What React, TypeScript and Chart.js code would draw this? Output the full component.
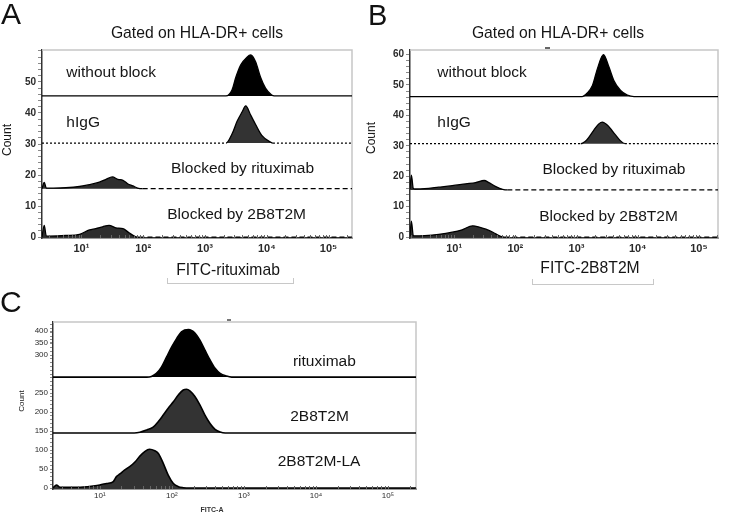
import { useEffect, useRef } from "react";
import { Chart, registerables } from "chart.js";

Chart.register(...registerables);

const FONT = '"Liberation Sans", Arial, Helvetica, sans-serif';

// ---------- shared x axis (log) ----------
const decadeValues = [10, 100, 1000, 10000, 100000];
const decadeLabels = ["10¹", "10²", "10³", "10⁴", "10⁵"];

// ---------- Panel A : FITC-rituximab ----------
const aNames = ["without block", "hIgG", "Blocked by rituximab", "Blocked by 2B8T2M"];
const aOffsets = [45.5, 30.3, 15.6, 0];
const aWithoutBlockX = [2.3, 2190, 2750, 3160, 3800, 4790, 5500, 6600, 7940, 9550, 12000, 13200, 240000];
const aWithoutBlockH = [0, 0, 2, 6, 10, 12.5, 13.2, 11, 6, 2.5, 0.3, 0, 0];
const aHigGX = [2.3, 2190, 2750, 3310, 3980, 4570, 5500, 6600, 8300, 11500, 12600, 240000];
const aHigGH = [0, 0, 3, 7, 10, 12, 9, 6, 2.5, 0.3, 0, 0];
const aRituxX = [2.3, 2.5, 2.7, 3.5, 5.6, 9.3, 13.5, 19.5, 25, 31.6, 39, 47, 56, 68, 81, 98, 240000];
const aRituxH = [0, 2, 0.2, 0.2, 0.3, 0.7, 1.3, 2.1, 3, 3.8, 3, 2.7, 1.6, 0.9, 0.2, 0, 0];
const a2B8X = [2.3, 2.5, 2.7, 3.0, 5.6, 9.3, 13.5, 17, 22, 28, 36, 47, 59, 76, 87, 240000];
const a2B8H = [0, 3.8, 0.3, 0.3, 0.5, 0.9, 2.3, 2.7, 3.3, 3.8, 3, 2.7, 1.4, 0.1, 0, 0];
const aYMajor = [0, 10, 20, 30, 40, 50];
const aYLabels = ["0", "10", "20", "30", "40", "50"];

// ---------- Panel B : FITC-2B8T2M ----------
const bNames = ["without block", "hIgG", "Blocked by rituximab", "Blocked by 2B8T2M"];
const bOffsets = [46.2, 30.7, 15.5, 0];
const bWithoutBlockX = [1.9, 1230, 1480, 1820, 2190, 2750, 3390, 4070, 5250, 6760, 8710, 205000];
const bWithoutBlockH = [0, 0, 1.1, 3.6, 9.1, 13.8, 9.7, 5.3, 2, 0.5, 0, 0];
const bHigGX = [1.9, 1170, 1480, 1910, 2340, 2630, 3240, 3980, 5130, 6170, 205000];
const bHigGH = [0, 0, 1.3, 4.4, 6.6, 7.1, 6, 3.8, 1.1, 0, 0];
const bRituxX = [1.9, 2.0, 2.15, 2.3, 3.3, 5.6, 9.3, 15.5, 22.4, 31, 37, 48, 62, 74, 205000];
const bRituxH = [0.3, 4.9, 0.5, 0.3, 0.4, 0.9, 1.4, 2, 2.4, 3.1, 2.4, 1.1, 0.2, 0, 0];
const b2B8X = [1.9, 2.0, 2.15, 2.3, 3.3, 5.6, 9.3, 13.5, 20, 25.7, 33, 43, 55, 66, 205000];
const b2B8H = [0.3, 5.2, 0.5, 0.4, 0.5, 0.9, 1.6, 2.4, 3.7, 3.3, 2.6, 1.6, 0.4, 0, 0];
const bYMajor = [0, 10, 20, 30, 40, 50, 60];
const bYLabels = ["0", "10", "20", "30", "40", "50", "60"];

// ---------- Panel C : FITC-A ----------
const cNames = ["rituximab", "2B8T2M", "2B8T2M-LA"];
const cOffsets = [292, 145, 0];
const cRituxX = [2.24, 45, 52, 61, 72, 85, 100, 117, 136, 170, 209, 245, 288, 339, 398, 468, 575, 676, 245000];
const cRituxH = [0, 0, 1.8, 9.6, 27, 54, 80, 102, 119, 125, 116, 97, 71, 45, 23, 9.6, 2.6, 0, 0];
const c2B8X = [2.24, 30, 36, 45, 55, 65, 76, 89, 105, 123, 144, 160, 178, 209, 245, 288, 339, 398, 468, 550, 245000];
const c2B8H = [0, 0, 1.8, 7.9, 15, 30, 47, 65, 82, 100, 113, 115, 111, 96, 74, 47, 25, 9.6, 2.6, 0, 0];
const cLAX = [2.24, 2.5, 2.8, 3.5, 5.9, 8.1, 10, 12.4, 15.4, 17, 19, 22, 26, 31, 36, 42, 49, 58, 65, 76, 89, 105, 123, 144, 178, 245000];
const cLAH = [0, 8, 2, 1.8, 2.6, 5.3, 7.9, 12, 17, 30, 37, 47, 56, 69, 84, 96, 102, 98, 91, 65, 34, 12, 3.5, 0.9, 0, 0];
const cYTickValues = [0, 50, 100, 150, 200, 250, 350, 382, 413];
const cYLabels = ["0", "50", "100", "150", "200", "250", "300", "350", "400"];

type Panel = {
  width: number;
  height: number;
  area: { left: number; top: number; right: number; bottom: number };
  xMin: number;
  xMax: number;
  yMin: number;
  yMax: number;
  names: string[];
  offsets: number[];
  xs: number[][];
  hs: number[][];
  fills: string[];
  dashes: (number[] | null)[];
  yMajor: number[];
  yLabels: string[];
  yMinorStep: number;
  labelAt: [number, number][];
  yTickFont: number;
  xTickFont: number;
  tickWeight: string;
  xTickPad: number;
  yTickLen: number;
  labelFont: number;
  lineWidth: number;
};

const panelA: Panel = {
  width: 365,
  height: 300,
  area: { left: 42, top: 50, right: 352, bottom: 238 },
  xMin: 2.3,
  xMax: 240000,
  yMin: -0.3,
  yMax: 60.3,
  names: aNames,
  offsets: aOffsets,
  xs: [aWithoutBlockX, aHigGX, aRituxX, a2B8X],
  hs: [aWithoutBlockH, aHigGH, aRituxH, a2B8H],
  fills: ["#000000", "#333333", "#2e2e2e", "#2e2e2e"],
  dashes: [null, [2, 2], [5, 3], [5, 3]],
  yMajor: aYMajor,
  yLabels: aYLabels,
  yMinorStep: 2,
  labelAt: [[5.7, 52.9], [5.7, 36.8], [282, 22], [245, 7.1]],
  yTickFont: 10,
  xTickFont: 11,
  tickWeight: "bold",
  xTickPad: 4,
  yTickLen: 4,
  labelFont: 15.5,
  lineWidth: 1.3,
};

const panelB: Panel = {
  width: 380,
  height: 300,
  area: { left: 45, top: 50, right: 353, bottom: 238 },
  xMin: 1.9,
  xMax: 205000,
  yMin: -0.3,
  yMax: 61.5,
  names: bNames,
  offsets: bOffsets,
  xs: [bWithoutBlockX, bHigGX, bRituxX, b2B8X],
  hs: [bWithoutBlockH, bHigGH, bRituxH, b2B8H],
  fills: ["#000000", "#333333", "#2e2e2e", "#2e2e2e"],
  dashes: [null, [2, 2], [5, 3], [5, 3]],
  yMajor: bYMajor,
  yLabels: bYLabels,
  yMinorStep: 2,
  labelAt: [[5.3, 54], [5.3, 37.6], [277, 22], [245, 6.6]],
  yTickFont: 10,
  xTickFont: 11,
  tickWeight: "bold",
  xTickPad: 4,
  yTickLen: 4,
  labelFont: 15.5,
  lineWidth: 1.3,
};

const panelC: Panel = {
  width: 420,
  height: 216,
  area: { left: 53, top: 22, right: 416, bottom: 189 },
  xMin: 2.24,
  xMax: 245000,
  yMin: -2.6,
  yMax: 437,
  names: cNames,
  offsets: cOffsets,
  xs: [cRituxX, c2B8X, cLAX],
  hs: [cRituxH, c2B8H, cLAH],
  fills: ["#000000", "#333333", "#333333"],
  dashes: [null, null, null],
  yMajor: cYTickValues,
  yLabels: cYLabels,
  yMinorStep: 10,
  labelAt: [[4800, 332], [4400, 187], [2950, 68]],
  yTickFont: 8,
  xTickFont: 8,
  tickWeight: "normal",
  xTickPad: 2,
  yTickLen: 3,
  labelFont: 15.5,
  lineWidth: 1.6,
};

function HistogramPanel({ panel, left, top }: { panel: Panel; left: number; top: number }) {
  const ref = useRef<HTMLCanvasElement>(null);
  useEffect(() => {
    const p = panel;
    const canvas = ref.current;
    if (!canvas) return;
    const datasets = p.names.map((name, i) => {
      const hs = p.hs[i];
      const dash = p.dashes[i];
      return {
        label: name,
        data: p.xs[i].map((x, j) => ({ x, y: p.offsets[i] + hs[j] })),
        borderColor: "#000000",
        borderWidth: p.lineWidth,
        backgroundColor: p.fills[i],
        fill: { value: p.offsets[i] },
        pointRadius: 0,
        cubicInterpolationMode: "monotone" as const,
        segment: {
          borderDash: (ctx: any) =>
            dash && hs[ctx.p0DataIndex] === 0 && hs[ctx.p1DataIndex] === 0 ? dash : undefined,
        },
      };
    });

    const overlay = {
      id: "overlay",
      beforeDatasetsDraw(chart: any) {
        const { ctx, chartArea: a } = chart;
        ctx.save();
        ctx.strokeStyle = "#c6c6c6";
        ctx.lineWidth = 1.5;
        ctx.beginPath();
        ctx.moveTo(a.left, a.top);
        ctx.lineTo(a.right, a.top);
        ctx.lineTo(a.right, a.bottom);
        ctx.stroke();
        ctx.restore();
      },
      afterDatasetsDraw(chart: any) {
        const { ctx, chartArea: a } = chart;
        const xs = chart.scales.x;
        const ys = chart.scales.y;
        ctx.save();
        ctx.strokeStyle = "#666";
        ctx.lineWidth = 1;
        for (const t of xs.ticks) {
          const px = Math.round(xs.getPixelForValue(t.value)) + 0.5;
          ctx.beginPath();
          ctx.moveTo(px, a.bottom);
          ctx.lineTo(px, a.bottom - 3);
          ctx.stroke();
        }
        ctx.fillStyle = "#151515";
        ctx.font = `${p.labelFont}px ${FONT}`;
        ctx.textBaseline = "middle";
        ctx.textAlign = "left";
        p.names.forEach((n, i) => {
          ctx.fillText(n, xs.getPixelForValue(p.labelAt[i][0]), ys.getPixelForValue(p.labelAt[i][1]));
        });
        ctx.restore();
      },
    };

    const chart = new Chart(canvas, {
      type: "line",
      data: { datasets: datasets as any },
      options: {
        responsive: false,
        animation: false,
        events: [],
        layout: {
          padding: { left: 0, top: p.area.top, right: p.width - p.area.right, bottom: 0 },
        },
        plugins: { legend: { display: false }, tooltip: { enabled: false } },
        scales: {
          x: {
            type: "logarithmic",
            min: p.xMin,
            max: p.xMax,
            afterFit: (s: any) => {
              s.height = p.height - p.area.bottom;
            },
            afterBuildTicks: (s: any) => {
              const vals: { value: number }[] = [];
              for (let k = 0; k <= 5; k++) {
                for (let m = 1; m <= 9; m++) {
                  const v = m * Math.pow(10, k);
                  if (v >= p.xMin && v <= p.xMax) vals.push({ value: v });
                }
              }
              s.ticks = vals;
            },
            grid: { display: true, drawOnChartArea: false, drawTicks: false },
            border: { display: true, color: "#333", width: 1.5 },
            ticks: {
              autoSkip: false,
              maxRotation: 0,
              padding: p.xTickPad,
              color: "#2a2a2a",
              font: { family: FONT, size: p.xTickFont, weight: p.tickWeight as any },
              callback: (v: any) => {
                const k = decadeValues.indexOf(Number(v));
                return k >= 0 ? decadeLabels[k] : "";
              },
            },
          },
          y: {
            type: "linear",
            min: p.yMin,
            max: p.yMax,
            afterFit: (s: any) => {
              s.width = p.area.left;
            },
            afterBuildTicks: (s: any) => {
              const set = new Set<number>(p.yMajor);
              for (let v = 0; v <= p.yMax; v += p.yMinorStep) set.add(Math.round(v * 100) / 100);
              s.ticks = Array.from(set)
                .sort((u, w) => u - w)
                .map((v) => ({ value: v }));
            },
            grid: {
              display: true,
              drawOnChartArea: false,
              drawTicks: true,
              tickLength: p.yTickLen,
              tickColor: "#8a8a8a",
              tickWidth: 1,
            },
            border: { display: true, color: "#333", width: 1.5 },
            ticks: {
              autoSkip: false,
              padding: 2,
              color: "#2a2a2a",
              font: { family: FONT, size: p.yTickFont, weight: p.tickWeight as any },
              callback: (v: any) => {
                const k = p.yMajor.indexOf(Number(v));
                return k >= 0 ? p.yLabels[k] : "";
              },
            },
          },
        },
      },
      plugins: [overlay],
    });
    return () => chart.destroy();
  }, [panel]);
  return (
    <canvas
      ref={ref}
      width={panel.width}
      height={panel.height}
      style={{ position: "absolute", left, top, width: panel.width, height: panel.height }}
    />
  );
}

function Txt({
  x,
  y,
  size,
  children,
  rotate,
  weight,
  color,
}: {
  x: number;
  y: number;
  size: number;
  children: string;
  rotate?: boolean;
  weight?: number;
  color?: string;
}) {
  return (
    <div
      style={{
        position: "absolute",
        left: x,
        top: y,
        transform: `translate(-50%, -50%)${rotate ? " rotate(-90deg)" : ""}`,
        fontSize: size,
        lineHeight: 1,
        whiteSpace: "nowrap",
        fontWeight: weight ?? 400,
        color: color ?? "#151515",
      }}
    >
      {children}
    </div>
  );
}

function Bracket({ x, y, w }: { x: number; y: number; w: number }) {
  return (
    <div
      style={{
        position: "absolute",
        left: x,
        top: y,
        width: w,
        height: 5,
        border: "1px solid #c8c8c8",
        borderTop: "none",
      }}
    />
  );
}

export default function App() {
  return (
    <div
      style={{
        position: "absolute",
        left: 0,
        top: 0,
        width: 745,
        height: 516,
        background: "#ffffff",
        overflow: "hidden",
        fontFamily: FONT,
      }}
    >
      <HistogramPanel panel={panelA} left={0} top={0} />
      <HistogramPanel panel={panelB} left={365} top={0} />
      <HistogramPanel panel={panelC} left={0} top={300} />

      <div style={{ position: "absolute", left: 1, top: -1, fontSize: 30, lineHeight: 1, color: "#111" }}>A</div>
      <div style={{ position: "absolute", left: 368, top: 1, fontSize: 29, lineHeight: 1, color: "#111" }}>B</div>
      <div style={{ position: "absolute", left: 0, top: 287, fontSize: 30, lineHeight: 1, color: "#111" }}>C</div>

      <Txt x={197} y={33} size={15.7}>Gated on HLA-DR+ cells</Txt>
      <Txt x={558} y={33} size={15.7}>Gated on HLA-DR+ cells</Txt>
      <div style={{ position: "absolute", left: 545, top: 47, width: 5, height: 1.5, background: "#666" }} />
      <div style={{ position: "absolute", left: 227, top: 319, width: 4, height: 1.5, background: "#777" }} />

      <Txt x={7} y={140} size={12} rotate>Count</Txt>
      <Txt x={371} y={138} size={12} rotate>Count</Txt>
      <Txt x={22} y={401} size={8} rotate>Count</Txt>

      <Txt x={228} y={270} size={15.7}>FITC-rituximab</Txt>
      <Bracket x={167} y={278} w={125} />
      <Txt x={590} y={268} size={15.7}>FITC-2B8T2M</Txt>
      <Bracket x={532} y={279} w={120} />
      <Txt x={212} y={509} size={7} weight={700} color="#333">FITC-A</Txt>
    </div>
  );
}
